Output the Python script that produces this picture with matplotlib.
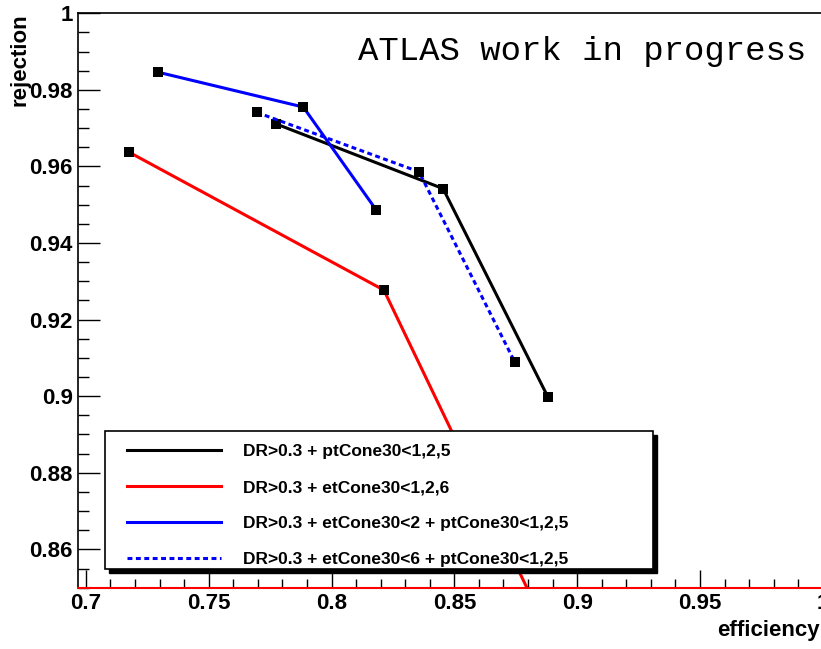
import matplotlib
matplotlib.use("Agg")
import matplotlib.pyplot as plt
from matplotlib.ticker import MultipleLocator, FuncFormatter
from matplotlib.patches import Rectangle
from matplotlib.transforms import offset_copy

# efficiency / rejection points
pt_eff = [0.7774, 0.8454, 0.888]
pt_rej = [0.9711, 0.9542, 0.8999]

et_eff = [0.7176, 0.8213, 0.893]
et_rej = [0.9637, 0.9277, 0.832]

et2pt_eff = [0.7294, 0.7885, 0.8181]
et2pt_rej = [0.9846, 0.9755, 0.9487]

et6pt_eff = [0.7696, 0.8356, 0.8746]
et6pt_rej = [0.9741, 0.9586, 0.9089]

labels = ["DR>0.3 + ptCone30<1,2,5",
          "DR>0.3 + etCone30<1,2,6",
          "DR>0.3 + etCone30<2 + ptCone30<1,2,5",
          "DR>0.3 + etCone30<6 + ptCone30<1,2,5"]

plt.rcParams['font.family'] = ['Liberation Sans', 'DejaVu Sans']

fig = plt.figure(figsize=(8.21, 6.49), dpi=100)
ax = fig.add_axes([0.0954, 0.0945, 0.9068, 0.8851])

lw = 2.2
ms = 6.8
l1, = ax.plot(pt_eff, pt_rej, color='black', lw=lw, marker='s', ms=ms, mfc='black', mec='black', mew=0)
l2, = ax.plot(et_eff, et_rej, color='red', lw=lw, marker='s', ms=ms, mfc='black', mec='black', mew=0)
l3, = ax.plot(et2pt_eff, et2pt_rej, color='blue', lw=lw, marker='s', ms=ms, mfc='black', mec='black', mew=0)
l4, = ax.plot(et6pt_eff, et6pt_rej, color='blue', lw=lw, marker='s', ms=ms, mfc='black', mec='black', mew=0,
              dashes=(1.6, 1.15))

ax.set_xlim(0.6969, 1.0)
ax.set_ylim(0.85, 1.0)

# ROOT style ticks
ax.xaxis.set_major_locator(MultipleLocator(0.05))
ax.xaxis.set_minor_locator(MultipleLocator(0.01))
ax.yaxis.set_major_locator(MultipleLocator(0.02))
ax.yaxis.set_minor_locator(MultipleLocator(0.005))
fmt = FuncFormatter(lambda v, p: '%g' % round(v, 4))
ax.xaxis.set_major_formatter(fmt)
ax.yaxis.set_major_formatter(fmt)
ax.tick_params(axis='x', which='major', direction='in', length=13, width=1, pad=4)
ax.tick_params(axis='x', which='minor', direction='in', length=6.5, width=1)
ax.tick_params(axis='y', which='major', direction='in', length=16, width=1, pad=4)
ax.tick_params(axis='y', which='minor', direction='in', length=8, width=1)
for lab in ax.get_xticklabels() + ax.get_yticklabels():
    lab.set_fontsize(16)
    lab.set_fontweight('bold')

ax.spines['right'].set_visible(False)
for s in ['left', 'top', 'bottom']:
    ax.spines[s].set_linewidth(1.2)

# red graph clipped along the frame bottom
ax.axhline(ax.get_ylim()[0], color='red', lw=1.5, clip_on=False, zorder=3)

# legend box with black shadow
x0, y0, w, h = 0.0359, 0.0326, 0.7360, 0.2402
shadow = Rectangle((x0, y0), w, h, transform=offset_copy(ax.transAxes, fig=fig, x=4, y=-4, units='dots'),
                   facecolor='black', edgecolor='black', zorder=4)
box = Rectangle((x0, y0), w, h, transform=ax.transAxes, facecolor='white', edgecolor='black', lw=1.2, zorder=4.5)
ax.add_patch(shadow)
ax.add_patch(box)

leg = ax.legend([l1, l2, l3, l4], labels, loc='upper left', bbox_to_anchor=(0.0651, 0.250),
                borderaxespad=0, borderpad=0, frameon=False, handlelength=5.45, handletextpad=1.24,
                labelspacing=1.2, prop={'weight': 'bold', 'size': 12.5})
for hl in leg.legend_handles:
    hl.set_marker('')
leg.set_zorder(5)

fig.text(806 / 821, 1 - 60 / 649, "ATLAS work in progress", ha='right', va='baseline',
         family='Liberation Mono', fontsize=24.5)

fig.text(20 / 821, 1 - 13 / 649, "rejection", rotation=90, ha='center', va='top',
         fontsize=16, fontweight='bold')
fig.text(820 / 821, 1 - 620 / 649, "efficiency", ha='right', va='top',
         fontsize=16, fontweight='bold')

fig.savefig("out.png", dpi=100)
